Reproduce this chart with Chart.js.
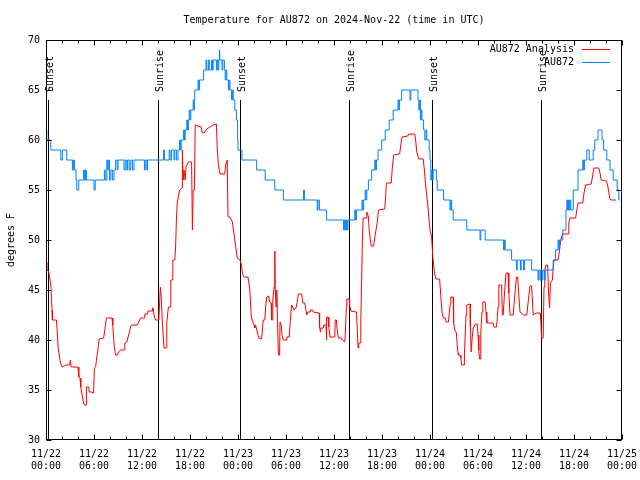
<!DOCTYPE html>
<html>
<head>
<meta charset="utf-8">
<script src="https://cdn.jsdelivr.net/npm/chart.js@4.4.1/dist/chart.umd.min.js"></script>
<style>
  body { margin: 0; background: #fff; }
  #wrap { width: 640px; height: 480px; }
</style>
</head>
<body>
<div id="wrap"><canvas id="c" width="640" height="480"></canvas></div>
<script>
// hours since 11/22 00:00 UTC, degrees F
const analysisPts = [[0,47.5],[0.1,47.8],[0.15,47],[0.35,46.8],[0.6,45.5],[0.75,43],[0.8,42],[1.3,42],[1.4,41],[1.5,39.3],[1.7,38.3],[1.8,37.7],[2.0,37.3],[2.5,37.5],[2.95,37.5],[3.05,38],[3.15,37.3],[4.0,37.3],[4.1,36.3],[4.25,36.2],[4.35,35.3],[4.5,34.5],[4.7,33.7],[4.8,33.5],[5.0,33.5],[5.05,35.3],[5.35,35.3],[5.4,34.8],[5.7,34.8],[5.95,34.7],[6.05,37.2],[6.2,37.3],[6.35,38.3],[6.45,38.8],[6.6,39.8],[6.65,40.1],[7.2,40.2],[7.35,41],[7.55,42.2],[8.25,42.2],[8.35,41.5],[8.45,40.3],[8.55,39.2],[8.7,38.5],[8.95,38.5],[9.05,38.8],[9.35,39],[9.8,39],[9.85,39.7],[10.1,39.8],[10.4,40.7],[10.6,41.4],[10.7,41.5],[11.4,41.5],[11.6,41.8],[11.8,42.2],[12.3,42.2],[12.35,42.6],[12.7,42.6],[12.75,42.9],[13.25,42.9],[13.3,43.2],[13.4,43.2],[13.5,42.5],[13.7,42],[14.1,42],[14.2,43.7],[14.3,45.3],[14.4,44.3],[14.55,41.7],[14.75,39.2],[15.05,39.2],[15.1,41.7],[15.3,43.3],[15.55,43.3],[15.6,46],[15.8,46],[15.85,48],[16.1,48],[16.2,49.3],[16.3,52],[16.4,53.7],[16.7,55],[17.0,55.2],[17.05,59],[17.15,56],[17.25,57],[17.4,56],[17.5,57.3],[17.8,57.8],[18.2,57.8],[18.3,51],[18.4,55],[18.55,55],[18.65,61.5],[19.4,61.3],[19.5,60.8],[19.75,60.7],[20.1,61.1],[20.5,61.3],[20.9,61.5],[21.3,61.6],[21.4,59.3],[21.55,57.5],[21.75,56.6],[22.35,56.6],[22.45,57.5],[22.65,58],[22.75,52.3],[23.0,52.3],[23.3,51.8],[23.6,50],[23.9,48.2],[24.25,48],[24.4,47.6],[24.6,46.5],[24.75,46.3],[25.25,46.3],[25.4,45.5],[25.5,44.7],[25.65,42.5],[25.75,42],[26.0,41.5],[26.1,41.2],[26.2,41.5],[26.35,41],[26.6,40.2],[26.95,40.1],[27.05,41],[27.15,42],[27.35,42],[27.45,43.3],[27.6,44.3],[27.85,44.4],[27.95,43.8],[28.15,43.7],[28.2,42],[28.3,42],[28.35,44],[28.5,45.3],[28.6,48.9],[28.65,45.3],[28.75,43.3],[28.85,45],[28.95,41.5],[29.05,38.5],[29.2,38.5],[29.25,41.8],[29.4,41.5],[29.5,40.5],[29.65,40],[30.05,40],[30.1,40.3],[30.4,40.3],[30.55,42],[30.7,43.5],[30.85,43.3],[31.0,43],[31.3,43.3],[31.4,43.8],[31.55,44.6],[31.95,44.6],[32.1,43.7],[32.35,43.7],[32.45,43.2],[32.6,42.5],[32.7,42.8],[33.0,42.8],[33.05,43],[33.3,43],[33.4,42.8],[34.15,42.7],[34.2,41.3],[34.3,40.8],[34.35,41.2],[34.65,41.2],[34.7,41.5],[35.0,41.5],[35.05,40],[35.1,42.3],[35.25,42.3],[35.35,41.3],[35.5,40.3],[36.1,40.3],[36.15,42],[36.3,42],[36.4,41],[36.55,40.2],[36.95,40.2],[37.05,40],[37.35,39.8],[37.45,41.3],[37.55,43.3],[37.6,44.1],[37.9,44.1],[37.95,43.5],[38.1,42.9],[38.8,42.8],[38.9,41.3],[39.0,39.2],[39.1,39.7],[39.3,39.7],[39.35,42],[39.45,46],[39.55,50],[39.65,52.2],[40.0,52.2],[40.1,52.8],[40.2,52.6],[40.3,52.3],[40.4,51],[40.55,50],[40.65,49.4],[40.95,49.4],[41.1,50.3],[41.25,51],[41.45,52],[41.55,53],[42.35,53.1],[42.45,54.3],[42.55,55.7],[43.15,55.7],[43.3,57.3],[43.45,58.5],[44.2,58.6],[44.35,59.5],[44.5,60.3],[45.2,60.4],[45.35,60.6],[46.1,60.6],[46.2,60],[46.35,58.8],[46.6,58.1],[47.15,58.1],[47.3,57],[47.45,55.5],[47.7,53.7],[47.85,52.3],[48.0,51],[48.2,50.3],[48.35,48.3],[48.6,46.5],[48.75,46.1],[49.2,46.1],[49.3,45],[49.45,43.3],[49.55,42.5],[49.7,42.2],[49.95,42.2],[50.0,41.8],[50.3,41.8],[50.4,42.5],[50.5,43.5],[50.6,44.3],[50.9,44.3],[50.95,41.7],[51.1,41],[51.3,40.7],[51.4,39.5],[51.5,38.7],[51.55,38.5],[51.75,38.5],[51.85,38.2],[51.95,37.5],[52.25,37.5],[52.3,38.5],[52.4,40.5],[52.5,42.5],[52.6,43.5],[53.0,43.6],[53.05,41.3],[53.15,38.8],[53.25,40],[53.4,41.2],[53.6,41.5],[53.9,41.6],[54.0,40.5],[54.1,39],[54.2,38.1],[54.3,38.1],[54.35,40.8],[54.5,42.8],[54.6,43.8],[54.9,43.8],[55.0,42.8],[55.1,41.7],[55.9,41.7],[56.0,41.3],[56.3,41.3],[56.4,42],[56.5,43.3],[56.6,45.5],[56.95,45.5],[57.05,42.5],[57.15,42.5],[57.3,44.5],[57.5,46.7],[57.75,46.7],[57.85,44.7],[58.0,42.5],[58.4,42.5],[58.6,44.5],[58.8,46.3],[58.95,46.3],[59.1,44.5],[59.25,42.8],[59.7,42.5],[60.1,42.5],[60.3,44],[60.5,45.4],[60.7,45.4],[60.8,44],[60.9,42.5],[61.3,42.7],[61.75,42.7],[61.85,42],[61.95,40.2],[62.15,40.2],[62.25,45.3],[62.35,47],[62.5,47.5],[62.7,47.5],[62.8,45],[62.95,43.2],[63.05,45.7],[63.3,46],[63.4,47.3],[63.5,48],[64.0,48],[64.15,48.7],[64.3,49.7],[64.4,50.2],[64.6,50.6],[65.25,50.6],[65.35,51.7],[65.5,52.2],[66.2,52.2],[66.35,53],[66.5,53.7],[67.1,53.7],[67.25,54.7],[67.45,55.5],[68.15,55.6],[68.3,56.3],[68.45,57],[68.5,57.2],[69.1,57.2],[69.25,56.7],[69.4,56],[70.05,55.9],[70.2,55.5],[70.35,54.8],[70.45,54.2],[70.6,54],[71.25,54]];

// station readings, whole degrees; each pair = time the reading changed, new value
const stationPts = [[0,61],[0.1,60],[0.6,59],[1.85,58],[2.05,59],[2.6,58],[3.3,57],[3.45,58],[3.55,57],[3.75,56],[3.85,55],[4.1,56],[4.7,57],[4.8,56],[4.95,57],[5.05,56],[6.0,55],[6.15,56],[7.3,57],[7.4,56],[7.6,58],[7.7,57],[7.85,58],[7.95,56],[8.1,57],[8.3,56],[8.5,57],[8.7,58],[8.9,57],[9.0,58],[9.75,57],[9.9,58],[10.1,57],[10.2,58],[10.4,57],[10.6,58],[10.8,57],[11.0,58],[12.3,57],[12.4,58],[12.6,57],[12.7,58],[14.7,59],[14.8,58],[15.4,59],[15.5,58],[15.7,59],[16.0,58],[16.1,59],[16.3,58],[16.5,59],[16.7,60],[16.8,59],[16.9,60],[17.2,61],[17.3,60],[17.4,61],[17.6,62],[17.7,61],[17.8,62],[17.9,63],[18.0,62],[18.1,63],[18.4,64],[18.5,63],[18.55,64],[18.6,65],[19.0,66],[19.1,65],[19.2,66],[19.7,67],[20.0,68],[20.1,67],[20.3,68],[20.4,67],[20.7,68],[20.8,67],[20.9,68],[21.3,67],[21.4,68],[21.5,67],[21.6,68],[21.67,69],[21.72,68],[22.0,67],[22.1,68],[22.3,67],[22.4,66],[22.5,67],[22.6,66],[22.8,65],[22.9,66],[23.0,65],[23.2,64],[23.3,65],[23.4,64],[23.6,63],[23.8,62],[23.95,60],[24.0,59],[24.5,58],[26.33,57],[27.4,56],[28.6,55],[29.67,54],[32.2,55],[32.3,54],[33.9,53],[34.0,54],[34.17,53],[35.08,52],[37.2,51],[37.3,52],[37.45,51],[37.55,52],[37.65,51],[37.75,52],[38.6,53],[38.7,52],[38.8,53],[39.5,54],[39.6,53],[39.7,54],[39.9,55],[40.0,54],[40.1,55],[40.3,56],[40.7,57],[41.1,58],[41.2,57],[41.3,58],[41.5,59],[41.96,60],[42.4,61],[42.9,62],[43.4,63],[44.0,64],[44.1,63],[44.2,64],[44.46,65],[45.5,64],[45.6,65],[46.5,64],[46.6,63],[46.7,64],[46.8,62],[46.9,63],[47.0,62],[47.2,61],[47.35,60],[47.5,61],[47.6,60],[47.9,59],[48.0,58],[48.1,56],[48.2,57],[48.3,56],[48.4,57],[48.8,56],[48.9,55],[49.7,54],[50.5,53],[50.6,54],[50.7,53],[50.9,52],[52.6,51],[54.25,50],[54.35,51],[54.9,50],[57.2,49],[57.3,50],[57.4,49],[58.2,48],[58.8,47],[58.9,48],[59.3,47],[59.4,48],[59.7,47],[59.8,48],[60.7,47],[61.5,46],[61.6,47],[61.75,46],[61.85,47],[62.0,46],[62.1,47],[62.3,46],[62.4,47],[63.4,48],[63.7,49],[64.0,50],[64.1,49],[64.2,50],[64.6,51],[65.0,53],[65.1,54],[65.2,53],[65.3,54],[65.4,53],[65.5,54],[65.6,53],[65.9,55],[66.5,57],[67.1,58],[67.2,57],[67.3,58],[67.6,59],[67.9,58],[68.4,59],[68.6,60],[69.0,61],[69.5,60],[69.7,59],[70.1,58],[70.5,57],[70.9,56],[71.4,55],[71.6,54],[71.75,54]];

const sunHours = [0.25, 14.0, 24.3, 37.9, 48.2, 61.9];
const sunLabels = ['Sunset', 'Sunrise', 'Sunset', 'Sunrise', 'Sunset', 'Sunrise'];
const sunLineTop = 64;

const xTickLabels = [
  ['11/22','00:00'],['11/22','06:00'],['11/22','12:00'],['11/22','18:00'],
  ['11/23','00:00'],['11/23','06:00'],['11/23','12:00'],['11/23','18:00'],
  ['11/24','00:00'],['11/24','06:00'],['11/24','12:00'],['11/24','18:00'],
  ['11/25','00:00']
];

const FONT_FAMILY = '"DejaVu Sans Mono", monospace';
const FONT = '10px ' + FONT_FAMILY;

function toXY(pts) {
  return pts.map(p => ({x: p[0], y: p[1]}));
}

// gnuplot look: frame, inward ticks, sun lines, legend, titles
const gnuplotBits = {
  id: 'gnuplotBits',
  beforeDatasetsDraw(chart) {
    const ctx = chart.ctx, a = chart.chartArea, x = chart.scales.x, y = chart.scales.y;
    ctx.save();
    ctx.strokeStyle = '#000';
    ctx.fillStyle = '#000';
    ctx.lineWidth = 1;
    ctx.font = FONT;
    const top = Math.round(y.getPixelForValue(sunLineTop));
    for (let i = 0; i < sunHours.length; i++) {
      const px = Math.round(x.getPixelForValue(sunHours[i])) + 0.5;
      ctx.beginPath();
      ctx.moveTo(px, top);
      ctx.lineTo(px, a.bottom);
      ctx.stroke();

      ctx.save();
      ctx.translate(px + 2, top - 8);
      ctx.rotate(-Math.PI / 2);
      ctx.textAlign = 'left';
      ctx.textBaseline = 'middle';
      ctx.fillText(sunLabels[i], 0, 0);
      ctx.restore();
    }
    ctx.restore();
  },
  afterDatasetsDraw(chart) {
    const ctx = chart.ctx, a = chart.chartArea, x = chart.scales.x, y = chart.scales.y;
    ctx.save();
    ctx.strokeStyle = '#000';
    ctx.fillStyle = '#000';
    ctx.lineWidth = 1;

    const L = Math.round(a.left) + 0.5, R = Math.round(a.right) - 0.5;
    const T = Math.round(a.top) + 0.5, B = Math.round(a.bottom) - 0.5;
    ctx.strokeRect(L, T, R - L, B - T);

    ctx.beginPath();
    for (let h = 0; h <= 72; h += 2) {
      const px = Math.round(x.getPixelForValue(h)) + 0.5;
      const len = h % 6 === 0 ? 5 : 3;
      ctx.moveTo(px, B); ctx.lineTo(px, B - len);
      ctx.moveTo(px, T); ctx.lineTo(px, T + len);
    }
    for (let v = 30; v <= 70; v += 5) {
      const py = Math.round(y.getPixelForValue(v)) + 0.5;
      ctx.moveTo(L, py); ctx.lineTo(L + 5, py);
      ctx.moveTo(R, py); ctx.lineTo(R - 5, py);
    }
    ctx.stroke();

    // legend
    ctx.font = FONT;
    ctx.textAlign = 'right';
    ctx.textBaseline = 'middle';
    chart.data.datasets.forEach((ds, i) => {
      const ly = 49.5 + 13 * i;
      ctx.fillStyle = '#000';
      ctx.fillText(ds.label, 574, ly);
      ctx.strokeStyle = ds.borderColor;
      ctx.beginPath();
      ctx.moveTo(582, ly);
      ctx.lineTo(610, ly);
      ctx.stroke();
    });

    // title
    ctx.fillStyle = '#000';
    ctx.textAlign = 'center';
    ctx.fillText('Temperature for AU872 on 2024-Nov-22 (time in UTC)', (a.left + a.right) / 2, 20);

    // y axis title
    ctx.save();
    ctx.translate(11, (a.top + a.bottom) / 2);
    ctx.rotate(-Math.PI / 2);
    ctx.textAlign = 'center';
    ctx.fillText('degrees F', 0, 0);
    ctx.restore();

    ctx.restore();
  }
};

new Chart(document.getElementById('c').getContext('2d'), {
  type: 'line',
  data: {
    datasets: [
      {
        label: 'AU872 Analysis',
        data: toXY(analysisPts),
        borderColor: 'rgb(255,0,0)',
        borderWidth: 1,
        pointRadius: 0,
        tension: 0,
        order: 1
      },
      {
        label: 'AU872',
        data: toXY(stationPts),
        borderColor: 'rgb(0,128,255)',
        borderWidth: 1,
        pointRadius: 0,
        tension: 0,
        stepped: 'before',
        order: 0
      }
    ]
  },
  options: {
    responsive: false,
    animation: false,
    layout: { padding: { left: 0, right: 18, top: 40, bottom: 0 } },
    plugins: { legend: { display: false }, tooltip: { enabled: false }, title: { display: false } },
    scales: {
      x: {
        type: 'linear',
        min: 0,
        max: 72,
        grid: { display: false, drawTicks: false },
        border: { display: false },
        ticks: {
          stepSize: 6,
          autoSkip: false,
          maxRotation: 0,
          padding: 8,
          color: '#000',
          font: { family: FONT_FAMILY, size: 10, lineHeight: 1.2 },
          callback: v => xTickLabels[Math.round(v / 6)]
        },
        afterFit: s => { s.height = 40; s.paddingLeft = 0; s.paddingRight = 0; }
      },
      y: {
        min: 30,
        max: 70,
        grid: { display: false, drawTicks: false },
        border: { display: false },
        ticks: {
          stepSize: 5,
          padding: 6,
          color: '#000',
          font: { family: FONT_FAMILY, size: 10 }
        },
        afterFit: s => { s.width = 46; s.paddingTop = 0; s.paddingBottom = 0; }
      }
    }
  },
  plugins: [gnuplotBits]
});
</script>
</body>
</html>
